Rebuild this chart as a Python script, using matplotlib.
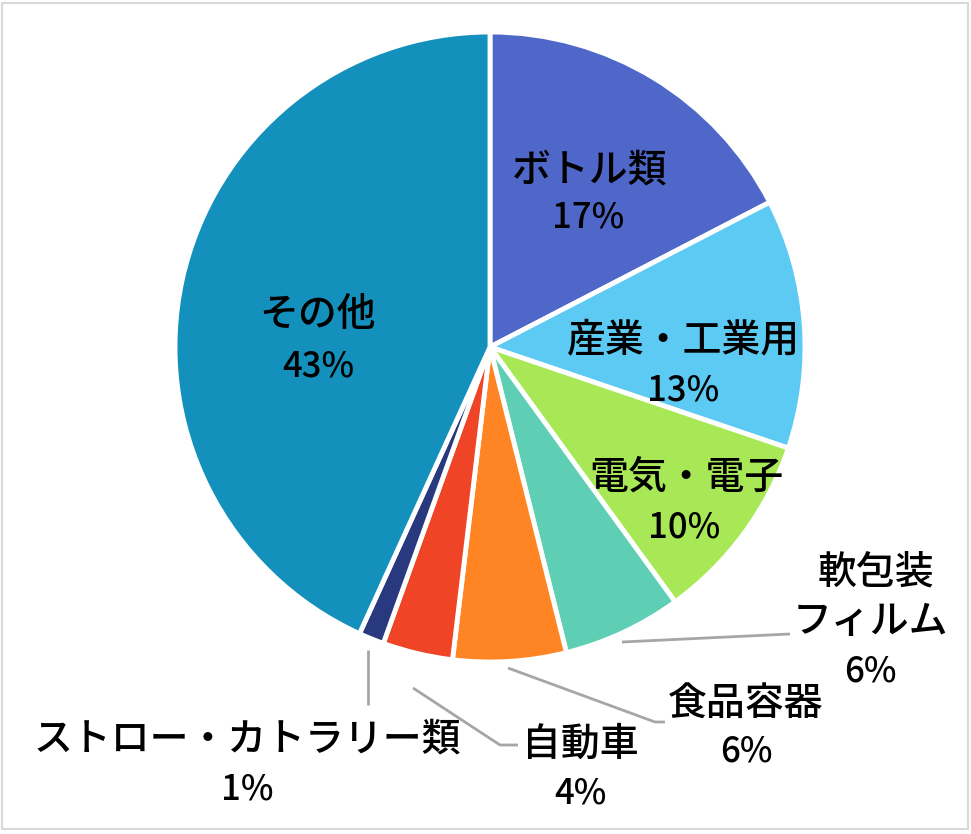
import matplotlib
matplotlib.use("Agg")
import matplotlib.pyplot as plt
from matplotlib.patches import Rectangle

categories = ["ボトル類", "産業・工業用", "電気・電子", "軟包装\nフィルム", "食品容器", "自動車", "ストロー・カトラリー類", "その他"]
values = [17.4, 12.8, 9.8, 6.1, 5.8, 3.6, 1.3, 43.2]
pct_labels = ["17%", "13%", "10%", "6%", "6%", "4%", "1%", "43%"]
colors = ["#4F67C8", "#5CCAF2", "#A8E856", "#5ECEB4", "#FF8423", "#F04426", "#28397F", "#1390BC"]

W, H = 971, 834
fig = plt.figure(figsize=(W / 100, H / 100), dpi=100)
ax = fig.add_axes([0, 0, 1, 1])

cx, cy, r = 490, H - 347, 315
ax.pie(values, colors=colors, startangle=90, counterclock=False, center=(cx, cy), radius=r,
       wedgeprops=dict(edgecolor="white", linewidth=3.5), frame=True)
ax.set_xlim(0, W)
ax.set_ylim(0, H)
ax.set_aspect("equal")
ax.axis("off")

jp = ["Noto Sans CJK JP", "DejaVu Sans"]
fs = 28
pfs = 25

pos = [
    ([(590, 170)], (588, 217)),
    ([(683, 340)], (683, 390)),
    ([(686, 478)], (684, 527)),
    ([(876, 572), (870, 622)], (870, 672)),
    ([(746, 705)], (746, 752)),
    ([(580, 745)], (580, 793)),
    ([(247, 740)], (247, 790)),
    ([(318, 315)], (318, 366)),
]
for cat, pl, (names, pp) in zip(categories, pct_labels, pos):
    for line, (x, y) in zip(cat.split("\n"), names):
        ax.text(x, H - y, line, ha="center", va="center", fontsize=fs, family=jp,
                fontweight="medium", color="black")
    ax.text(pp[0], H - pp[1], pl, ha="center", va="center", fontsize=pfs, family=jp,
            fontweight="medium", color="black")

lc = "#A6A6A6"
leaders = [
    [(622, 642), (790, 634)],
    [(508, 668), (655, 722), (665, 722)],
    [(413, 688), (500, 745), (518, 745)],
    [(368, 650), (368, 705)],
]
for pts in leaders:
    ax.plot([p[0] for p in pts], [H - p[1] for p in pts], color=lc, lw=2, solid_capstyle="butt")

fig.patches.append(Rectangle((2 / W, 5 / H), (W - 5) / W, (H - 8) / H, transform=fig.transFigure,
                             fill=False, edgecolor="#D9D9D9", lw=1.5))
fig.savefig("out.png", dpi=100, facecolor="white")
